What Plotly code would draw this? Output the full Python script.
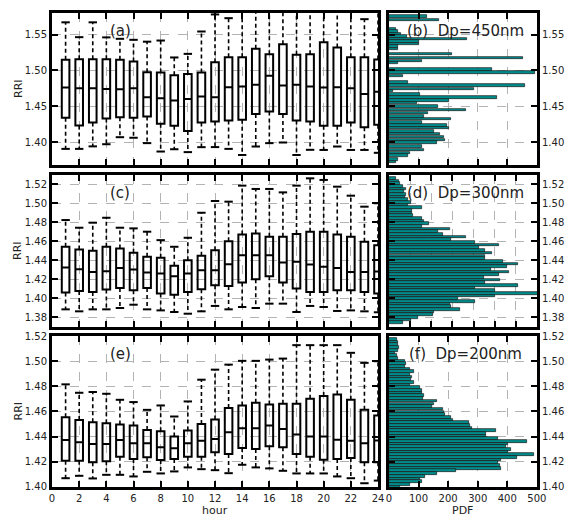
import plotly.graph_objects as go

# ---------------- data ----------------
hours = list(range(1, 25))

# (a) Dp = 450 nm
a_low = [1.3905,1.3905,1.394,1.397,1.4068,1.406,1.3985,1.3868,1.390,1.386,1.3929,1.393,
         1.3905,1.382,1.3938,1.3985,1.3994,1.382,1.3892,1.389,1.3938,1.389,1.389,1.385]
a_q1 = [1.4338,1.423,1.4273,1.433,1.4347,1.434,1.4356,1.4254,1.4226,1.4156,1.4273,1.4287,
        1.430,1.431,1.439,1.4426,1.439,1.430,1.4287,1.4226,1.4226,1.4273,1.4208,1.424]
a_med = [1.476,1.475,1.475,1.474,1.4738,1.475,1.4626,1.461,1.458,1.460,1.4635,1.4626,
         1.4765,1.4775,1.4798,1.4924,1.4789,1.4798,1.4775,1.476,1.4765,1.475,1.4672,1.470]
a_q3 = [1.5147,1.5156,1.5156,1.5156,1.5147,1.5123,1.4975,1.497,1.4933,1.495,1.497,1.5114,
        1.5184,1.5184,1.530,1.5226,1.5365,1.5216,1.5226,1.5393,1.5319,1.5184,1.5184,1.515]
a_high = [1.567,1.5463,1.567,1.546,1.544,1.5426,1.540,1.5416,1.518,1.523,1.5542,1.578,
          1.5728,1.585,1.60,1.60,1.60,1.60,1.60,1.60,1.60,1.60,1.5714,1.60]

# (c) Dp = 300 nm
c_low = [1.3881,1.386,1.3881,1.3881,1.3895,1.393,1.3881,1.387,1.3853,1.3835,1.386,1.3917,
         1.3881,1.3906,1.3895,1.3941,1.3941,1.3853,1.3917,1.3906,1.3864,1.387,1.386,1.385]
c_q1 = [1.4058,1.4075,1.4065,1.4089,1.4107,1.4082,1.4107,1.4047,1.4036,1.4065,1.4093,1.4135,
        1.4128,1.4163,1.4199,1.423,1.4163,1.41,1.4065,1.4065,1.4082,1.4082,1.4065,1.4047]
c_med = [1.4322,1.4304,1.4276,1.4283,1.4318,1.430,1.4269,1.4259,1.423,1.4259,1.4294,1.4294,
         1.4357,1.4452,1.4452,1.4452,1.4375,1.4382,1.4354,1.4329,1.4318,1.4276,1.4276,1.428]
c_q3 = [1.4541,1.4512,1.4498,1.4541,1.4523,1.4477,1.4435,1.4424,1.434,1.44,1.4445,1.4505,
        1.46,1.4671,1.4682,1.4646,1.4646,1.4675,1.47,1.47,1.4671,1.4646,1.4594,1.4558]
c_high = [1.4823,1.4742,1.4795,1.4847,1.4742,1.4735,1.470,1.4611,1.4541,1.4636,1.49,1.5024,
          1.5017,1.5186,1.5151,1.5151,1.5115,1.5186,1.5263,1.5246,1.5175,1.508,1.4964,1.50]

# (e) Dp = 200 nm
e_low = [1.4069,1.4088,1.4067,1.4096,1.4096,1.4083,1.412,1.4107,1.4123,1.4155,1.4141,1.4133,
         1.4109,1.4176,1.4155,1.4147,1.4128,1.4107,1.4107,1.4107,1.4083,1.4069,1.4029,1.405]
e_q1 = [1.4208,1.4208,1.4195,1.4203,1.424,1.4221,1.4235,1.4213,1.4221,1.424,1.424,1.4275,
        1.4261,1.4309,1.4301,1.4323,1.4315,1.4261,1.424,1.4216,1.4221,1.4229,1.4195,1.4195]
e_med = [1.4373,1.4355,1.4341,1.4341,1.4373,1.4347,1.4347,1.4315,1.4307,1.4347,1.4368,1.4381,
         1.4435,1.4467,1.4467,1.4488,1.4461,1.4416,1.44,1.44,1.4376,1.4368,1.4347,1.437]
e_q3 = [1.4555,1.4533,1.4515,1.4507,1.4496,1.4488,1.4453,1.4443,1.44,1.4448,1.4501,1.4536,
        1.4627,1.4648,1.4669,1.4656,1.4661,1.4661,1.4701,1.4723,1.4736,1.4693,1.4613,1.4568]
e_high = [1.4816,1.4749,1.4755,1.4741,1.4693,1.4675,1.4613,1.4648,1.456,1.468,1.4853,1.4933,
          1.4973,1.5003,1.5003,1.5013,1.5021,1.5128,1.5128,1.5128,1.5128,1.5067,1.4987,1.50]

# histograms (PDF vs RRI bin centre)
b_rri = [1.575,1.570,1.557,1.554,1.551,1.547,1.5435,1.540,1.5365,1.533,1.530,1.523,1.517,1.513,
         1.510,1.501,1.497,1.492,1.483,1.4785,1.474,1.471,1.466,1.462,1.458,1.4545,1.450,1.445,
         1.4405,1.436,1.432,1.4275,1.423,1.4195,1.415,1.411,1.407,1.403,1.399,1.394,1.389,1.385,
         1.381,1.376,1.372]
b_pdf = [128,168,25,30,40,60,263,100,100,30,30,214,454,111,30,348,494,48,65,460,286,14,105,366,
         203,94,166,260,132,117,208,111,197,203,151,174,185,189,162,111,117,71,65,30,25]

d_rri = [1.5264,1.5235,1.5207,1.5179,1.5151,1.5122,1.5094,1.5066,1.5038,1.5010,
         1.4981,1.4953,1.4925,1.4897,1.4869,1.4840,1.4812,1.4784,1.4756,1.4728,
         1.4699,1.4671,1.4643,1.4615,1.4587,1.4558,1.4530,1.4502,1.4474,1.4445,
         1.4417,1.4389,1.4361,1.4333,1.4304,1.4276,1.4248,1.4220,1.4192,1.4163,
         1.4135,1.4107,1.4079,1.4051,1.4022,1.3994,1.3966,1.3938,1.3910,1.3881,
         1.3853,1.3825,1.3797,1.3769,1.3740]
d_pdf = [34,47,50,66,81,70,81,78,92,105,
         89,156,109,109,112,156,164,191,156,289,
         230,256,362,294,406,522,425,453,487,456,
         456,537,612,558,484,566,519,448,527,453,
         609,406,503,720,500,328,406,289,292,336,
         214,206,136,105,66]

f_rri = [1.5173,1.5152,1.5131,1.5109,1.5088,1.5067,1.5045,1.5024,1.5003,1.4981,
         1.4960,1.4939,1.4917,1.4896,1.4875,1.4853,1.4832,1.4811,1.4789,1.4768,
         1.4747,1.4725,1.4704,1.4683,1.4661,1.4640,1.4619,1.4597,1.4576,1.4555,
         1.4533,1.4512,1.4491,1.4469,1.4448,1.4427,1.4405,1.4384,1.4363,1.4341,
         1.4320,1.4299,1.4277,1.4256,1.4235,1.4213,1.4192,1.4171,1.4149,1.4128,
         1.4107,1.4085,1.4064,1.4043,1.4021,1.4000]
f_pdf = [26,30,32,34,30,21,26,32,55,57,
         53,72,83,70,78,75,83,72,106,110,
         112,118,114,163,152,146,183,186,190,209,
         215,272,274,281,361,329,329,369,468,403,
         397,414,403,489,432,380,369,374,380,226,
         163,123,106,110,72,38]

hour_ticks = [0,2,4,6,8,10,12,14,16,18,20,22,24]
yt_a = [1.40,1.45,1.50,1.55]
yt_c = [1.38,1.40,1.42,1.44,1.46,1.48,1.50,1.52]
yt_e = [1.40,1.42,1.44,1.46,1.48,1.50,1.52]
pdf_ticks = [0,100,200,300,400,500]
pdf_ticks_mid = [0,100,200,300,400,500,600,700]

panel_labels = ["(a)", "(c)", "(e)"]
hist_labels = ["(b)\u00a0\u00a0Dp=450nm", "(d)\u00a0\u00a0Dp=300nm", "(f)\u00a0\u00a0Dp=200nm"]

# ---------------- figure ----------------
FONT = "DejaVu Sans"
TEAL = "#008b8b"
fig = go.Figure()

rows = [
    dict(low=a_low, q1=a_q1, med=a_med, q3=a_q3, high=a_high,
         hr=b_rri, hp=b_pdf, bw=0.0036, yr=[1.368, 1.580], yt=yt_a,
         xr=[0, 500.5], xt=pdf_ticks, dom=[0.6793, 1.0]),
    dict(low=c_low, q1=c_q1, med=c_med, q3=c_q3, high=c_high,
         hr=d_rri, hp=d_pdf, bw=0.0028, yr=[1.3695, 1.5298], yt=yt_c,
         xr=[0, 700], xt=pdf_ticks_mid, dom=[0.3376, 0.6582]),
    dict(low=e_low, q1=e_q1, med=e_med, q3=e_q3, high=e_high,
         hr=f_rri, hp=f_pdf, bw=0.00213, yr=[1.3999, 1.5201], yt=yt_e,
         xr=[0, 500.5], xt=pdf_ticks, dom=[0.0, 0.3186]),
]

axis_common = dict(
    showline=True, linecolor="black", linewidth=3, mirror="allticks",
    ticks="inside", ticklen=6, tickwidth=2, tickcolor="black",
    showgrid=True, gridcolor="#b3b3b3", griddash="dash", gridwidth=1,
    zeroline=False, tickfont=dict(family=FONT, size=10, color="#222"),
    automargin=False,
)

layout = {}
for i, r in enumerate(rows):
    lx, ly = 2 * i + 1, 2 * i + 1
    rx, ry = 2 * i + 2, 2 * i + 2
    xa = f"x{lx}" if lx > 1 else "x"
    ya = f"y{ly}" if ly > 1 else "y"
    xb, yb = f"x{rx}", f"y{ry}"

    # whiskers (dashed)
    wx, wy = [], []
    for h, lo, q1, q3, hi in zip(hours, r["low"], r["q1"], r["q3"], r["high"]):
        wx += [h, h, None, h, h, None]
        wy += [q3, hi, None, q1, lo, None]
    fig.add_trace(go.Scatter(x=wx, y=wy, mode="lines", xaxis=xa, yaxis=ya,
                             line=dict(color="black", width=1.6, dash="4px,3px"),
                             hoverinfo="skip", showlegend=False))
    # caps
    fig.add_trace(go.Scatter(x=hours + hours, y=r["high"] + r["low"], mode="markers",
                             xaxis=xa, yaxis=ya,
                             marker=dict(symbol="line-ew", size=6,
                                         line=dict(color="black", width=2)),
                             hoverinfo="skip", showlegend=False))
    # boxes
    fig.add_trace(go.Box(x=hours, q1=r["q1"], median=r["med"], q3=r["q3"],
                         lowerfence=r["q1"], upperfence=r["q3"],
                         width=0.56, whiskerwidth=0, boxpoints=False,
                         fillcolor="rgba(0,0,0,0)",
                         line=dict(color="black", width=2),
                         xaxis=xa, yaxis=ya, showlegend=False))
    # histogram
    fig.add_trace(go.Bar(x=r["hp"], y=r["hr"], orientation="h", width=r["bw"],
                         marker=dict(color=TEAL, line=dict(color="#1a1a1a", width=0.7)),
                         xaxis=xb, yaxis=yb, showlegend=False))

    last = (i == 2)
    layout["xaxis" if lx == 1 else f"xaxis{lx}"] = dict(
        axis_common, domain=[0, 0.6722], anchor=ya, range=[-0.001, 24.001],
        tickvals=hour_ticks, showticklabels=last)
    layout["yaxis" if ly == 1 else f"yaxis{ly}"] = dict(
        axis_common, domain=r["dom"], anchor=xa, range=r["yr"],
        tickvals=r["yt"], ticktext=[f"{v:.2f}" for v in r["yt"]])
    layout[f"xaxis{rx}"] = dict(
        axis_common, domain=[0.6948, 1.0], anchor=yb, range=r["xr"],
        tickvals=r["xt"], showticklabels=last)
    layout[f"yaxis{ry}"] = dict(
        axis_common, domain=r["dom"], anchor=xb, range=r["yr"], side="right",
        tickvals=r["yt"], ticktext=[f"{v:.2f}" for v in r["yt"]])

fig.update_layout(**layout)

ann = []
for i in range(3):
    xa = "x" if i == 0 else f"x{2*i+1}"
    ya = "y" if i == 0 else f"y{2*i+1}"
    ann.append(dict(text=panel_labels[i], xref=f"{xa} domain", yref=f"{ya} domain",
                    x=0.21, y=0.88, showarrow=False, xanchor="center", yanchor="middle",
                    font=dict(family=FONT, size=15, color="#222")))
    ann.append(dict(text=hist_labels[i], xref=f"x{2*i+2} domain", yref=f"y{2*i+2} domain",
                    x=0.52, y=0.88, showarrow=False, xanchor="center", yanchor="middle",
                    font=dict(family=FONT, size=15, color="#222")))
    dom = rows[i]["dom"]
    ymid = (dom[0] + dom[1]) / 2
    ann.append(dict(text="RRI", xref="paper", yref="paper", x=-0.0701, y=ymid,
                    textangle=-90, showarrow=False, xanchor="center", yanchor="middle",
                    font=dict(family=FONT, size=11, color="#222")))
    ann.append(dict(text="RRI", xref="paper", yref="paper", x=1.0804, y=ymid,
                    textangle=-90, showarrow=False, xanchor="center", yanchor="middle",
                    font=dict(family=FONT, size=11, color="#222")))
ann.append(dict(text="hour", xref="paper", yref="paper", x=0.336, y=-0.0496,
                showarrow=False, xanchor="center", yanchor="middle",
                font=dict(family=FONT, size=11, color="#222")))
ann.append(dict(text="PDF", xref="paper", yref="paper", x=0.8474, y=-0.0496,
                showarrow=False, xanchor="center", yanchor="middle",
                font=dict(family=FONT, size=11, color="#222")))

# page body has an 8px margin: shrink the figure so the plot areas land where the reference has them
fig.update_layout(
    width=568, height=507,
    margin=dict(l=44, r=39, t=5, b=28),
    paper_bgcolor="white", plot_bgcolor="white",
    showlegend=False, annotations=ann, bargap=0,
    font=dict(family=FONT, size=10, color="#222"),
)

fig.write_html("out.html")
